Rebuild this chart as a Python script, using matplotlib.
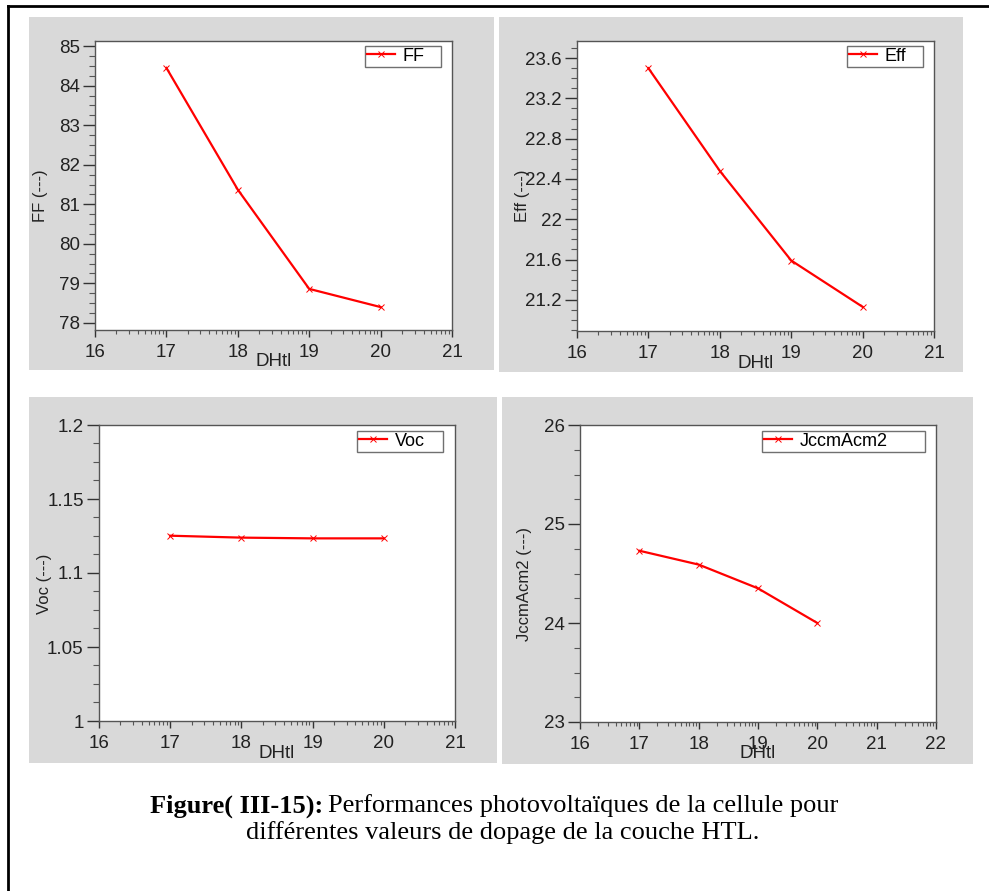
import numpy as np
import matplotlib
matplotlib.use("Agg")
import matplotlib.pyplot as plt
from matplotlib.patches import Rectangle
from matplotlib.lines import Line2D
from matplotlib.ticker import MultipleLocator, FixedLocator

plt.rcParams['font.family'] = ['Liberation Sans', 'DejaVu Sans']

# data
dhtl = [17, 18, 19, 20]
ff = [84.45, 81.37, 78.86, 78.40]
eff = [23.50, 22.48, 21.59, 21.13]
voc = [1.1252, 1.1239, 1.1234, 1.1234]
jsc = [24.73, 24.59, 24.35, 24.00]

W, H = 989, 891
fig = plt.figure(figsize=(W / 100, H / 100), dpi=100)


def fx(px):
    return px / W


def fy(py):
    return 1 - py / H


# outer frame of the page (only top and left visible)
fig.add_artist(Line2D([fx(8), fx(989)], [fy(6), fy(6)], color='black', lw=2,
                      transform=fig.transFigure))
fig.add_artist(Line2D([fx(8), fx(8)], [fy(6), fy(891)], color='black', lw=2,
                      transform=fig.transFigure))

# gray panel backgrounds (x0, y0, x1, y1 in pixels)
panels_bg = [(29, 17, 494, 370), (499, 17, 963, 372),
             (29, 397, 497, 763), (502, 397, 973, 764)]
for x0, y0, x1, y1 in panels_bg:
    fig.add_artist(Rectangle((fx(x0), fy(y1)), fx(x1 - x0), (y1 - y0) / H,
                             facecolor='#d9d9d9', edgecolor='none',
                             transform=fig.transFigure, zorder=0))

# axes boxes in pixels
boxes = [(95, 41, 452, 330), (577, 41, 934, 331),
         (99, 425, 455, 721), (580, 425, 936, 722)]
series = [ff, eff, voc, jsc]
names = ['FF', 'Eff', 'Voc', 'JccmAcm2']
xlims = [(16, 21), (16, 21), (16, 21), (16, 22)]
ylims = [(77.82, 85.13), (20.89, 23.77), (1.0, 1.2), (23, 26)]
ymajor = [[78, 79, 80, 81, 82, 83, 84, 85],
          [21.2, 21.6, 22, 22.4, 22.8, 23.2, 23.6],
          [1, 1.05, 1.1, 1.15, 1.2],
          [23, 24, 25, 26]]
ylabels = [['78', '79', '80', '81', '82', '83', '84', '85'],
           ['21.2', '21.6', '22', '22.4', '22.8', '23.2', '23.6'],
           ['1', '1.05', '1.1', '1.15', '1.2'],
           ['23', '24', '25', '26']]
yminor = [0.25, 0.1, 0.0125, 0.25]
# legend box: x0, width, top (axes fraction)
leg_pos = [(0.756, 0.213, 0.983), (0.756, 0.213, 0.983),
           (0.725, 0.242, 0.980), (0.511, 0.458, 0.980)]

for i in range(4):
    x0, y0, x1, y1 = boxes[i]
    ax = fig.add_axes([fx(x0), fy(y1), (x1 - x0) / W, (y1 - y0) / H])
    ax.set_facecolor('white')
    ax.plot(dhtl, series[i], color='red', lw=1.6, marker='x', ms=4,
            mew=0.7, label=names[i])
    ax.set_xlim(*xlims[i])
    ax.set_ylim(*ylims[i])

    xt = list(range(xlims[i][0], xlims[i][1] + 1))
    ax.set_xticks(xt)
    ax.set_xticklabels([str(v) for v in xt])
    minors = [n + np.log10(k) for n in xt[:-1] for k in range(2, 10)]
    ax.xaxis.set_minor_locator(FixedLocator(minors))
    ax.yaxis.set_major_locator(FixedLocator(ymajor[i]))
    ax.set_yticklabels(ylabels[i])
    ax.yaxis.set_minor_locator(MultipleLocator(yminor[i]))

    ax.tick_params(axis='y', which='major', direction='out', length=9,
                   width=1, color='#333333', labelsize=13.5, pad=2,
                   labelcolor='#222222')
    ax.tick_params(axis='y', which='minor', direction='out', length=4.5,
                   width=0.8, color='#555555')
    ax.tick_params(axis='x', which='major', direction='out', length=5,
                   width=1, color='#333333', labelsize=13.5, pad=5,
                   labelcolor='#222222')
    ax.tick_params(axis='x', which='minor', direction='out', length=3,
                   width=0.8, color='#555555')
    for s in ax.spines.values():
        s.set_color('#555555')
        s.set_linewidth(1)

    h = y1 - y0
    w = x1 - x0
    ax.set_xlabel('DHtl', fontsize=13.5, color='#222222')
    ax.xaxis.set_label_coords(0.5, -32 / h)
    ax.xaxis.label.set_va('center')
    ax.set_ylabel(names[i] + ' (---)', fontsize=12, color='#222222')
    ax.yaxis.set_label_coords(-55 / w, 0.465)
    ax.yaxis.label.set_va('center')

    lx, lw, ltop = leg_pos[i]
    leg = ax.legend(loc='upper left', bbox_to_anchor=(lx, ltop - 0.08, lw, 0.08),
                    mode='expand', borderaxespad=0, fontsize=13,
                    frameon=True, fancybox=False, framealpha=1,
                    edgecolor='#707070', handlelength=1.55, handletextpad=0.45,
                    borderpad=0.1)
    leg.get_frame().set_linewidth(1)

# caption
cap_y1 = fy(806)
t1 = fig.text(fx(150), cap_y1, 'Figure( III-15):', fontsize=19,
              family='Liberation Serif', weight='bold', va='center', ha='left')
t2 = fig.text(fx(150), cap_y1, '', fontsize=19, family='Liberation Serif',
              va='center', ha='left')
fig.canvas.draw()
bb = t1.get_window_extent()
t2.set_position(((bb.x1 + 5) / W, cap_y1))
t2.set_text('Performances photovoltaïques de la cellule pour')
fig.text(fx(503), fy(833), 'différentes valeurs de dopage de la couche HTL.',
         fontsize=19, family='Liberation Serif', va='center', ha='center')

fig.savefig('out.png', dpi=100)
